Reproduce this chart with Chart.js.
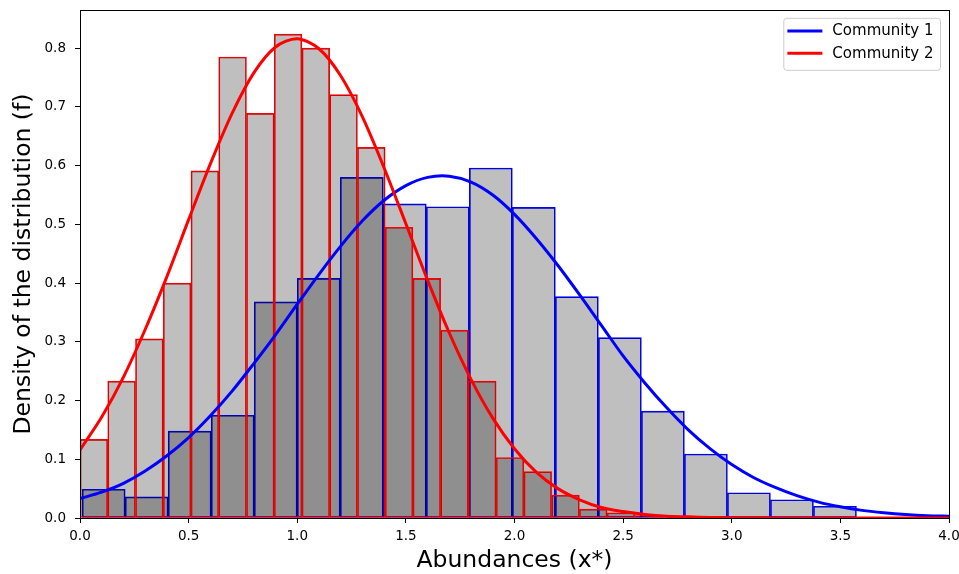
<!DOCTYPE html>
<html>
<head>
<meta charset="utf-8">
<script src="https://cdn.jsdelivr.net/npm/chart.js@4.4.0/dist/chart.umd.min.js"></script>
<style>
html,body{margin:0;padding:0;background:#fff;}
#wrap{width:959px;height:574px;}
</style>
</head>
<body>
<div id="wrap"><canvas id="c" width="959" height="574"></canvas></div>
<script>
// ---------- DATA ----------
const seriesNames = ['Community 1', 'Community 2'];

// Community 1 histogram (blue edges): bins start / width, densities
const blueBinStart = 0.01;
const blueBinWidth = 0.198;
const blueHeights = [0.049, 0.036, 0.148, 0.175, 0.368, 0.408, 0.580, 0.535, 0.530,
                     0.596, 0.529, 0.377, 0.307, 0.182, 0.109, 0.043, 0.031, 0.020];

// Community 2 histogram (red edges)
const redBinStart = 0.0;
const redBinWidth = 0.1277;
const redHeights = [0.134, 0.233, 0.305, 0.400, 0.591, 0.785, 0.689, 0.824, 0.800,
                    0.721, 0.631, 0.495, 0.408, 0.320, 0.233, 0.103, 0.079, 0.039,
                    0.015, 0.009, 0.004];

// Fitted density curves
const curveX = [0.0, 0.1, 0.2, 0.3, 0.4, 0.5, 0.6, 0.7, 0.8, 0.9, 1.0, 1.1, 1.2, 1.3,
                1.4, 1.5, 1.6, 1.7, 1.8, 1.9, 2.0, 2.1, 2.2, 2.3, 2.4, 2.5, 2.6, 2.7,
                2.8, 2.9, 3.0, 3.1, 3.2, 3.3, 3.4, 3.5, 3.6, 3.7, 3.8, 3.9, 4.0];
const blueCurve = [0.033, 0.044, 0.059, 0.080, 0.106, 0.137, 0.174, 0.216, 0.263, 0.312,
                   0.364, 0.415, 0.463, 0.506, 0.541, 0.566, 0.580, 0.582, 0.572, 0.550,
                   0.517, 0.476, 0.430, 0.380, 0.328, 0.276, 0.230, 0.188, 0.150, 0.118,
                   0.091, 0.069, 0.052, 0.038, 0.027, 0.019, 0.013, 0.009, 0.006, 0.004, 0.003];
const redCurve = [0.116, 0.172, 0.240, 0.321, 0.411, 0.508, 0.603, 0.689, 0.758, 0.802,
                  0.816, 0.799, 0.753, 0.683, 0.596, 0.501, 0.405, 0.315, 0.236, 0.170,
                  0.118, 0.078, 0.050, 0.031, 0.018, 0.011, 0.006, 0.003, 0.002, 0.001,
                  0.0005, 0.0003, 0.0002, 0.0001, 0, 0, 0, 0, 0, 0, 0];

const xTicks = [0.0, 0.5, 1.0, 1.5, 2.0, 2.5, 3.0, 3.5, 4.0];
const yTicks = [0.0, 0.1, 0.2, 0.3, 0.4, 0.5, 0.6, 0.7, 0.8];

// ---------- CHART ----------
const FONT = '"DejaVu Sans", sans-serif';
const BLUE = '#0000ff';
const RED = '#ff0000';
const FILL = 'rgba(0,0,0,0.25)';

function hist(start, width, heights) {
  return heights.map((h, i) => ({ x: start + width * (i + 0.5), y: h }));
}
function curve(xs, ys) {
  return xs.map((x, i) => ({ x: x, y: ys[i] }));
}

const framePlugin = {
  id: 'frame',
  afterDatasetsDraw(chart) {
    const a = chart.chartArea, ctx = chart.ctx;
    ctx.save();
    ctx.strokeStyle = '#000';
    ctx.lineWidth = 1;
    ctx.strokeRect(Math.floor(a.left) + 0.5, Math.floor(a.top) + 0.5,
                   Math.round(a.right - a.left), Math.round(a.bottom - a.top));
    ctx.restore();
  }
};

const legendPlugin = {
  id: 'customLegend',
  afterDraw(chart) {
    const a = chart.chartArea, ctx = chart.ctx;
    const items = [
      { label: seriesNames[0], color: BLUE },
      { label: seriesNames[1], color: RED }
    ];
    ctx.save();
    ctx.font = '15px ' + FONT;
    const tw = Math.max(...items.map(it => ctx.measureText(it.label).width));
    const w = 48.6 + tw + 7;
    const h = 52;
    const right = a.right - 8.5;
    const top = a.top + 8.3;
    const left = right - w;
    const r = 3;
    ctx.beginPath();
    ctx.moveTo(left + r, top);
    ctx.lineTo(left + w - r, top);
    ctx.arcTo(left + w, top, left + w, top + r, r);
    ctx.lineTo(left + w, top + h - r);
    ctx.arcTo(left + w, top + h, left + w - r, top + h, r);
    ctx.lineTo(left + r, top + h);
    ctx.arcTo(left, top + h, left, top + h - r, r);
    ctx.lineTo(left, top + r);
    ctx.arcTo(left, top, left + r, top, r);
    ctx.closePath();
    ctx.fillStyle = 'rgba(255,255,255,0.8)';
    ctx.fill();
    ctx.strokeStyle = '#cccccc';
    ctx.lineWidth = 1;
    ctx.stroke();
    items.forEach((it, i) => {
      const y = top + 12.7 + i * 22.3;
      ctx.beginPath();
      ctx.moveTo(left + 3.6, y);
      ctx.lineTo(left + 38.6, y);
      ctx.strokeStyle = it.color;
      ctx.lineWidth = 3;
      ctx.stroke();
      ctx.fillStyle = '#000';
      ctx.textBaseline = 'middle';
      ctx.textAlign = 'left';
      ctx.fillText(it.label, left + 48.6, y + 0.5);
    });
    ctx.restore();
  }
};

const tickFont = { family: FONT, size: 13.5 };

new Chart(document.getElementById('c'), {
  type: 'bar',
  data: {
    datasets: [
      { type: 'line', label: seriesNames[1], data: curve(curveX, redCurve),
        borderColor: RED, borderWidth: 3, pointRadius: 0, fill: false,
        tension: 0.3, xAxisID: 'x', yAxisID: 'y' },
      { type: 'line', label: seriesNames[0], data: curve(curveX, blueCurve),
        borderColor: BLUE, borderWidth: 3, pointRadius: 0, fill: false,
        tension: 0.3, xAxisID: 'x', yAxisID: 'y' },
      { type: 'bar', label: seriesNames[1] + ' histogram', data: hist(redBinStart, redBinWidth, redHeights),
        backgroundColor: FILL, borderColor: RED, borderWidth: 1, borderSkipped: false,
        categoryPercentage: 1, barPercentage: 1, grouped: false, xAxisID: 'x2', yAxisID: 'y' },
      { type: 'bar', label: seriesNames[0] + ' histogram', data: hist(blueBinStart, blueBinWidth, blueHeights),
        backgroundColor: FILL, borderColor: BLUE, borderWidth: 1, borderSkipped: false,
        categoryPercentage: 1, barPercentage: 1, grouped: false, xAxisID: 'x', yAxisID: 'y' }
    ]
  },
  options: {
    responsive: false,
    animation: false,
    devicePixelRatio: 1,
    layout: { padding: { top: 10, right: 10, left: 0, bottom: 0 } },
    plugins: { legend: { display: false }, tooltip: { enabled: false } },
    scales: {
      x: {
        type: 'linear', position: 'bottom', min: 0, max: 4, offset: false,
        afterBuildTicks: s => { s.ticks = xTicks.map(v => ({ value: v })); },
        afterFit: s => { s.height = 56; s.paddingLeft = 0; s.paddingRight = 0; },
        grid: { display: true, drawOnChartArea: false, drawTicks: true, tickLength: 5, color: '#000', offset: false },
        border: { display: false },
        ticks: { font: tickFont, color: '#000', padding: 5, maxRotation: 0, autoSkip: false,
                 callback: v => Number(v).toFixed(1) },
        title: { display: true, text: 'Abundances (x*)', color: '#000',
                 font: { family: FONT, size: 23.5, lineHeight: 1 }, padding: { top: 0, bottom: 1 } }
      },
      x2: {
        type: 'linear', position: 'bottom', display: false, min: 0, max: 4, offset: false,
        afterBuildTicks: s => { s.ticks = xTicks.map(v => ({ value: v })); },
        afterFit: s => { s.paddingLeft = 0; s.paddingRight = 0; },
        grid: { offset: false }
      },
      y: {
        type: 'linear', position: 'left', min: 0, max: 0.865,
        afterBuildTicks: s => { s.ticks = yTicks.map(v => ({ value: v })); },
        afterFit: s => { s.width = 80; s.paddingTop = 0; s.paddingBottom = 0; },
        grid: { display: true, drawOnChartArea: false, drawTicks: true, tickLength: 5, color: '#000' },
        border: { display: false },
        ticks: { font: tickFont, color: '#000', padding: 9, autoSkip: false,
                 callback: v => Number(v).toFixed(1) },
        title: { display: true, text: 'Density of the distribution (f)', color: '#000',
                 font: { family: FONT, size: 23.5, lineHeight: 1 }, padding: { top: 12, bottom: 0 } }
      }
    }
  },
  plugins: [framePlugin, legendPlugin]
});
</script>
</body>
</html>
